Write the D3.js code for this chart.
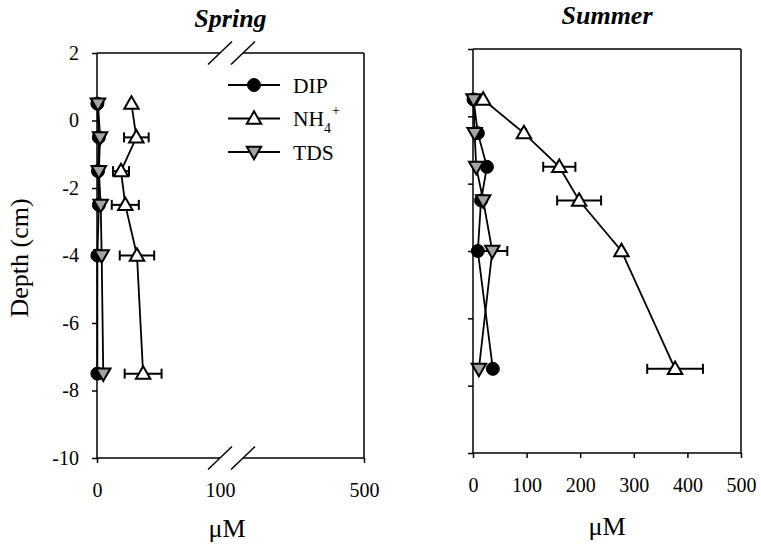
<!DOCTYPE html>
<html>
<head>
<script src="https://d3js.org/d3.v7.min.js"></script>
<style>
body { margin: 0; background: #fff; }
</style>
</head>
<body>
<svg id="chart" width="761" height="549" style="font-family: 'Liberation Serif', 'Times New Roman', Times, serif;"></svg>
<script>
// depths (cm) shared by both seasons
var depth = [0.5, -0.5, -1.5, -2.5, -4, -7.5];

// Spring (uM)
var springDIP = [0.3, 1.5, 0.8, 1.5, 0.3, 0.3];
var springNH4 = [28, 32, 19.5, 23, 32.5, 37.5];
var springNH4Err = [0, 10, 6.5, 11, 14, 15];
var springTDS = [0.8, 2.5, 1.5, 3, 3.8, 5.1];

// Summer (uM)
var summerDIP = [1, 9, 26, 15, 9, 37];
var summerNH4 = [19, 95, 161, 198, 277, 377];
var summerNH4Err = [0, 4, 30, 41, 0, 52];
var summerTDS = [1, 3, 6, 19, 36, 11];
var summerTDSErr = [0, 0, 0, 0, 28, 0];

var yTicks = [2, 0, -2, -4, -6, -8, -10];
var springXTicks = [0, 100, 500];
var summerXTicks = [0, 100, 200, 300, 400, 500];

var FONT = "'Liberation Serif', 'Times New Roman', Times, serif";
var svg = d3.select("#chart");
var gray = "#a3a3a3";

function series(vals, errs) {
	return depth.map(function(d, i) {
		return { x: vals[i], y: d, e: errs ? errs[i] : 0 };
	});
}

function drawPanel(cfg) {
	var g = svg.append("g").attr("transform", "translate(" + cfg.left + "," + cfg.top + ")");
	var w = cfg.width, h = cfg.height;
	var x = cfg.x, y = d3.scaleLinear().domain([-10, 2]).range([h, 0]);

	// left axis
	var yAxis = d3.axisLeft(y).tickValues(yTicks).tickSize(5).tickPadding(13)
		.tickFormat(cfg.yLabels ? function(d){ return d; } : "");
	var ya = g.append("g").call(yAxis).attr("font-family", FONT);
	ya.select(".domain").remove();
	ya.selectAll("line").attr("stroke-width", 1.5);
	ya.selectAll("text").style("font-size", "20px").style("font-family", FONT);

	// bottom axis
	var xa = g.append("g").attr("transform", "translate(0," + h + ")")
		.call(d3.axisBottom(x).tickValues(cfg.xTicks).tickSize(5).tickPadding(19.5))
		.attr("font-family", FONT);
	xa.select(".domain").remove();
	xa.selectAll("line").attr("stroke-width", 1.5);
	xa.selectAll("text").style("font-size", "20px").style("font-family", FONT);
	if (cfg.breakAt != null) {
		xa.selectAll(".tick").filter(function(d){ return d === cfg.breakAt; }).select("line").remove();
	}

	// frame
	var frame = g.append("g").attr("stroke", "#000").attr("stroke-width", 1.5).attr("fill", "none");
	frame.append("line").attr("x1", 0).attr("x2", 0).attr("y1", 0).attr("y2", h);
	frame.append("line").attr("x1", w).attr("x2", w).attr("y1", 0).attr("y2", h);
	[0, h].forEach(function(yy) {
		if (cfg.breakAt != null) {
			var b1 = x(cfg.breakAt), b2 = b1 + 23;
			frame.append("line").attr("x1", 0).attr("x2", b1).attr("y1", yy).attr("y2", yy);
			frame.append("line").attr("x1", b2).attr("x2", w).attr("y1", yy).attr("y2", yy);
			[b1, b2].forEach(function(bx) {
				frame.append("line").attr("x1", bx - 12).attr("x2", bx + 12)
					.attr("y1", yy + 11.5).attr("y2", yy - 11.5);
			});
		} else {
			frame.append("line").attr("x1", 0).attr("x2", w).attr("y1", yy).attr("y2", yy);
		}
	});

	var line = d3.line().x(function(d){ return x(d.x); }).y(function(d){ return y(d.y); });

	var all = [
		{ data: cfg.dip, type: "dip" },
		{ data: cfg.nh4, type: "nh4" },
		{ data: cfg.tds, type: "tds" }
	];

	all.forEach(function(s) {
		g.append("path").datum(s.data).attr("d", line)
			.attr("fill", "none").attr("stroke", "#000").attr("stroke-width", 1.8);
	});

	// error bars
	all.forEach(function(s) {
		var eb = g.append("g").attr("stroke", "#000").attr("stroke-width", 2);
		s.data.filter(function(d){ return d.e > 0; }).forEach(function(d) {
			var x1 = x(d.x - d.e), x2 = x(d.x + d.e), yy = y(d.y);
			eb.append("line").attr("x1", x1).attr("x2", x2).attr("y1", yy).attr("y2", yy);
			eb.append("line").attr("x1", x1).attr("x2", x1).attr("y1", yy - 5).attr("y2", yy + 5);
			eb.append("line").attr("x1", x2).attr("x2", x2).attr("y1", yy - 5).attr("y2", yy + 5);
		});
	});

	all.forEach(function(s) {
		s.data.forEach(function(d) {
			drawMarker(g, s.type, x(d.x), y(d.y));
		});
	});

	// title
	svg.append("text").attr("x", cfg.left + w / 2).attr("y", cfg.titleY)
		.attr("text-anchor", "middle").style("font-family", FONT).style("font-size", "26px")
		.style("font-weight", "bold").style("font-style", "italic").text(cfg.title);

	// x axis title
	svg.append("text").attr("x", cfg.muX).attr("y", cfg.muY)
		.attr("text-anchor", "middle").style("font-family", FONT).style("font-size", "26px").text("\u03BCM");
}

function drawMarker(g, type, cx, cy) {
	if (type === "dip") {
		g.append("circle").attr("cx", cx).attr("cy", cy).attr("r", 6.5)
			.attr("fill", "#000").attr("stroke", "#000").attr("stroke-width", 1);
	} else if (type === "nh4") {
		g.append("path").attr("d", d3.symbol().type(d3.symbolTriangle).size(90)())
			.attr("transform", "translate(" + cx + "," + (cy + 1) + ")")
			.attr("fill", "#fff").attr("stroke", "#000").attr("stroke-width", 2);
	} else {
		g.append("path").attr("d", d3.symbol().type(d3.symbolTriangle).size(90)())
			.attr("transform", "translate(" + cx + "," + (cy - 1) + ") rotate(180)")
			.attr("fill", gray).attr("stroke", "#000").attr("stroke-width", 2);
	}
}

drawPanel({
	left: 97, top: 53, width: 267, height: 405,
	x: d3.scaleLinear().domain([0, 100, 500]).range([0, 123, 267]),
	xTicks: springXTicks, breakAt: 100, yLabels: true,
	dip: series(springDIP), nh4: series(springNH4, springNH4Err), tds: series(springTDS),
	title: "Spring", titleY: 27, muX: 227, muY: 537
});

drawPanel({
	left: 473, top: 49, width: 268, height: 404,
	x: d3.scaleLinear().domain([0, 500]).range([0, 268]),
	xTicks: summerXTicks, breakAt: null, yLabels: false,
	dip: series(summerDIP), nh4: series(summerNH4, summerNH4Err), tds: series(summerTDS, summerTDSErr),
	title: "Summer", titleY: 24, muX: 607, muY: 535
});

// y axis title
svg.append("text").attr("transform", "translate(28,258) rotate(-90)")
	.attr("text-anchor", "middle").style("font-family", FONT).style("font-size", "26px").text("Depth (cm)");

// legend
var legend = svg.append("g");
var legendItems = [
	{ type: "dip", y: 85, label: "DIP" },
	{ type: "nh4", y: 118.5, label: "NH4" },
	{ type: "tds", y: 152, label: "TDS" }
];
legendItems.forEach(function(it) {
	legend.append("line").attr("x1", 228).attr("x2", 280).attr("y1", it.y).attr("y2", it.y)
		.attr("stroke", "#000").attr("stroke-width", 1.8);
	drawMarker(legend, it.type, 254, it.y);
	var t = legend.append("text").attr("x", 293).attr("y", it.y + 7.5)
		.style("font-family", FONT).style("font-size", "21.5px");
	if (it.type === "nh4") {
		t.append("tspan").text("NH");
		t.append("tspan").attr("dy", 7).style("font-size", "14px").text("4");
		t.append("tspan").attr("dy", -18).attr("dx", 1).style("font-size", "14px").text("+");
	} else {
		t.text(it.label);
	}
});
</script>
</body>
</html>
